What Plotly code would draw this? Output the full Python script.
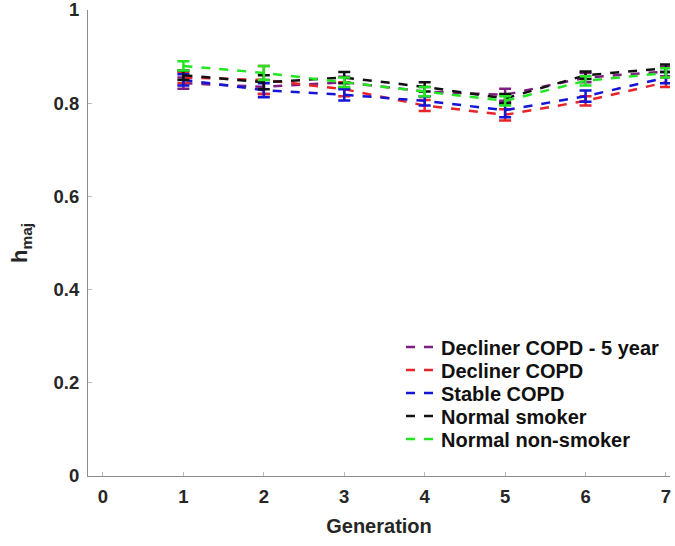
import plotly.graph_objects as go

generations = [1, 2, 3, 4, 5, 6, 7]
series_names = ["Decliner COPD - 5 year", "Decliner COPD", "Stable COPD", "Normal smoker", "Normal non-smoker"]
decliner5_mean = [0.843, 0.835, 0.845, 0.825, 0.818, 0.855, 0.868]
decliner5_err = [0.012, 0.015, 0.012, 0.010, 0.013, 0.010, 0.010]
decliner_mean = [0.855, 0.850, 0.830, 0.795, 0.775, 0.805, 0.845]
decliner_err = [0.012, 0.030, 0.015, 0.012, 0.012, 0.010, 0.010]
stable_mean = [0.850, 0.828, 0.818, 0.805, 0.785, 0.815, 0.855]
stable_err = [0.012, 0.015, 0.012, 0.010, 0.015, 0.012, 0.012]
smoker_mean = [0.860, 0.845, 0.855, 0.835, 0.810, 0.860, 0.875]
smoker_err = [0.010, 0.015, 0.012, 0.010, 0.010, 0.008, 0.008]
nonsmoker_mean = [0.880, 0.865, 0.845, 0.825, 0.805, 0.848, 0.865]
nonsmoker_err = [0.010, 0.015, 0.010, 0.010, 0.010, 0.010, 0.010]
colors = ["#7e1e80", "#e8232a", "#1515d8", "#111111", "#22e622"]

means = [decliner5_mean, decliner_mean, stable_mean, smoker_mean, nonsmoker_mean]
errs = [decliner5_err, decliner_err, stable_err, smoker_err, nonsmoker_err]

FONT = "Liberation Sans, Arial, sans-serif"
W, H = 675, 546
L, R, T, B = 88, 5, 10, 70
PW = W - L - R
PH = H - T - B

legend_names = ["legend", "legend2", "legend3", "legend4", "legend5"]
legend_rows_y = [347, 370, 393, 416, 439]

fig = go.Figure()
for name, m, e, c, lg in zip(series_names, means, errs, colors, legend_names):
    fig.add_trace(go.Scatter(
        x=generations, y=m, name=name, mode="lines", legend=lg,
        line=dict(color=c, width=2.5, dash="dash"),
        error_y=dict(type="data", array=e, visible=True, color=c, thickness=2.5, width=6),
    ))

fig.add_annotation(
    text="<b>h<sub>maj</sub></b>", xref="paper", yref="paper",
    x=(21 - L) / PW, y=0.5, xanchor="center", yanchor="middle",
    textangle=-90, showarrow=False,
    font=dict(family=FONT, size=22, color="#262626"),
)

legend_x = (401 - L) / PW
legends = {}
for lg, py in zip(legend_names, legend_rows_y):
    legends[lg] = dict(
        x=legend_x, y=(T + PH - py) / PH, xanchor="left", yanchor="middle",
        bgcolor="rgba(255,255,255,0)",
        font=dict(family=FONT, size=20, color="#111111", weight="bold"),
        itemwidth=30,
    )

fig.update_layout(
    width=W, height=H,
    margin=dict(l=L, r=R, t=T, b=B, autoexpand=False),
    paper_bgcolor="white", plot_bgcolor="white",
    font=dict(family=FONT, color="#262626"),
    showlegend=True,
    xaxis=dict(
        range=[-0.186, 7.05], tickvals=[0, 1, 2, 3, 4, 5, 6, 7],
        showgrid=False, zeroline=False, automargin=False,
        showline=True, linecolor="#8c8c8c", linewidth=1,
        ticks="inside", ticklen=4, tickcolor="#bbbbbb",
        ticklabelstandoff=4, ticklabeloverflow="allow",
        tickfont=dict(family=FONT, size=18.5, color="#262626", weight="bold"),
        title=dict(text="<b>Generation</b>", font=dict(family=FONT, size=20, color="#262626"), standoff=12),
    ),
    yaxis=dict(
        range=[0, 1], tickvals=[0, 0.2, 0.4, 0.6, 0.8, 1],
        ticktext=["0", "0.2", "0.4", "0.6", "0.8", "1"],
        showgrid=False, zeroline=False, automargin=False,
        showline=True, linecolor="#8c8c8c", linewidth=1,
        ticks="inside", ticklen=4, tickcolor="#bbbbbb",
        ticklabelstandoff=4, ticklabeloverflow="allow",
        tickfont=dict(family=FONT, size=18.5, color="#262626", weight="bold"),
    ),
    **legends,
)

fig.write_html("out.html", config={"displayModeBar": False},
               post_script="document.body.style.margin='0';")
